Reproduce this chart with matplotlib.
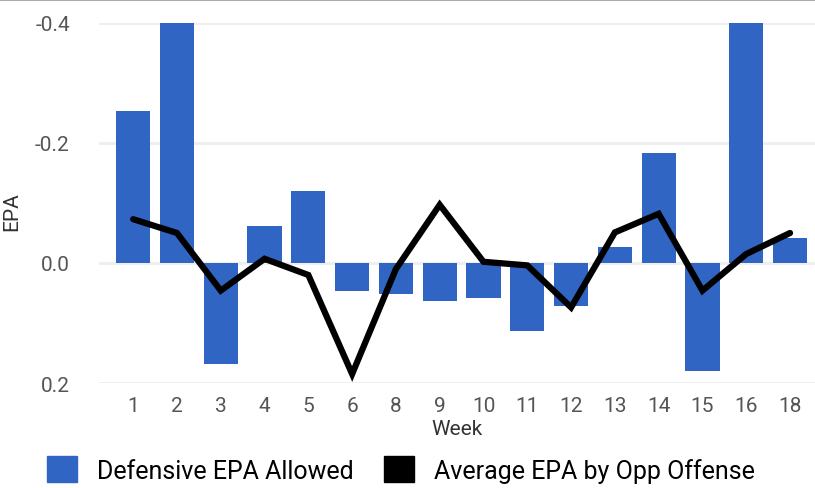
import matplotlib.pyplot as plt
from matplotlib.patches import Patch
import numpy as np

weeks = ['1', '2', '3', '4', '5', '6', '8', '9', '10', '11', '12', '13', '14', '15', '16', '18']
def_epa = [-0.253, -0.42, 0.168, -0.061, -0.120, 0.046, 0.052, 0.063, 0.058, 0.114,
           0.071, -0.026, -0.183, 0.180, -0.42, -0.042]
opp_epa = [-0.073, -0.050, 0.046, -0.007, 0.020, 0.185, 0.010, -0.097, -0.002, 0.004,
           0.074, -0.051, -0.082, 0.046, -0.015, -0.050]

plt.rcParams['font.family'] = ['Roboto', 'DejaVu Sans']

fig = plt.figure(figsize=(8.15, 4.89), dpi=100)
ax = fig.add_axes([0.1215, 0.2147, 0.8785, 0.7363])

x = np.arange(len(weeks))
blue = '#3165c4'
ax.bar(x, def_epa, width=0.78, color=blue, zorder=2)
ax.plot(x, opp_epa, color='black', lw=4.5, solid_capstyle='round', solid_joinstyle='miter', zorder=3, clip_on=False)

ax.set_ylim(0.2, -0.4)
ax.set_xlim(-0.78, len(weeks) - 0.43)
ax.set_yticks([-0.4, -0.2, 0.0, 0.2])
ax.set_yticklabels(['-0.4', '-0.2', '0.0', '0.2'])
ax.set_xticks(x)
ax.set_xticklabels(weeks)
ax.grid(axis='y', color='#eeeeee', lw=2, zorder=0)
ax.set_axisbelow(True)
for s in ax.spines.values():
    s.set_visible(False)
ax.tick_params(axis='both', length=0, labelsize=15, colors='#555555')
ax.tick_params(axis='y', pad=21)
ax.tick_params(axis='x', pad=9)
ax.set_xlabel('Week', fontsize=15, color='#333333', labelpad=3)
ax.set_ylabel('EPA', fontsize=15, color='#333333')
ax.yaxis.set_label_coords(-0.108, 0.48)

# top border line
fig.add_artist(plt.Line2D([0, 1], [0.997, 0.997], color='#aaaaaa', lw=1.5, transform=fig.transFigure))

handles = [Patch(color=blue, label='Defensive EPA Allowed'),
           Patch(color='black', label='Average EPA by Opp Offense')]
fig.legend(handles=handles, loc='lower left', bbox_to_anchor=(0.03, -0.035), ncol=2, frameon=False,
           fontsize=18, handlelength=1.2, handleheight=1.2, handletextpad=0.8, columnspacing=1.2)

fig.savefig('out.png', dpi=100)
